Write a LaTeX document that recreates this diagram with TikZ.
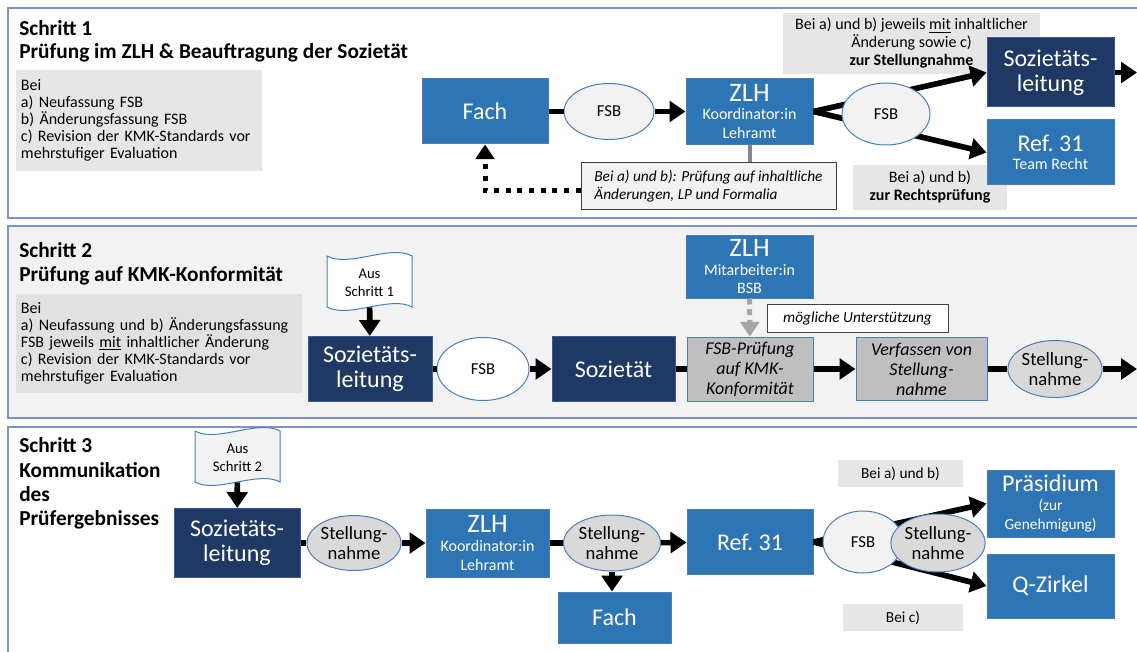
\documentclass[tikz,border=0pt]{standalone}
\usepackage{fontspec}
\setmainfont{Carlito}
\usetikzlibrary{arrows.meta,shapes.geometric}

\definecolor{zblue}{HTML}{2E75B6}
\definecolor{zblueline}{HTML}{4A7EBB}
\definecolor{znavy}{HTML}{1F3864}
\definecolor{znavyline}{HTML}{3A5A9A}
\definecolor{panelline}{HTML}{7F94C6}
\definecolor{panelfill}{HTML}{F2F2F2}
\definecolor{notegrey}{HTML}{E7E6E6}
\definecolor{listgrey}{HTML}{E1E1E1}
\definecolor{boxgrey}{HTML}{BFBFBF}
\definecolor{ovalgrey}{HTML}{D9D9D9}
\definecolor{ovallight}{HTML}{F2F2F2}
\definecolor{linkgrey}{HTML}{A6A6A6}

\newcommand{\headtxt}{\fontsize{16}{19}\bfseries\selectfont}
\newcommand{\listtxt}{\fontsize{12}{12.75}\selectfont}
\newcommand{\bigtxt}{\fontsize{18}{18.5}\selectfont}
\newcommand{\zlhtxt}{\fontsize{20}{20}\selectfont}
\newcommand{\smtxt}{\fontsize{12}{14}\selectfont}
\newcommand{\fsbtxt}{\fontsize{12.5}{14}\selectfont}
\newcommand{\stelltxt}{\fontsize{14}{15}\selectfont}
\newcommand{\tasktxt}{\fontsize{13.5}{15}\itshape\selectfont}
\newcommand{\hinttxt}{\fontsize{11.5}{13.5}\itshape\selectfont}
\newcommand{\notetxt}{\fontsize{11.5}{13.5}\selectfont}
\newcommand{\austxt}{\fontsize{11}{13}\selectfont}

% flag with wavy edges, centred on #1
\newcommand{\wavebox}[2]{%
  \draw[draw=zblueline,line width=0.75pt,fill=#2,shift={(#1)}]
    (-42.5,-27) .. controls (-21,-15) and (21,-39) .. (42.5,-27)
    -- (42.5,24) .. controls (21,12) and (-21,36) .. (-42.5,24) -- cycle;}

\tikzset{
  panel/.style={draw=panelline,line width=1.2pt},
  box/.style={rectangle,inner sep=0pt,align=center,text=white,line width=0.75pt},
  fachbox/.style={box,fill=zblue,draw=zblueline},
  leitbox/.style={box,fill=znavy,draw=znavyline},
  taskbox/.style={box,fill=boxgrey,draw=zblueline,text=black,font=\tasktxt},
  oval/.style={ellipse,draw=zblueline,line width=0.75pt,inner sep=0pt,align=center},
  fsboval/.style={oval,fill=ovallight,font=\fsbtxt},
  stelloval/.style={oval,fill=ovalgrey,font=\stelltxt},
  note/.style={fill=notegrey,inner sep=0pt,align=center,font=\notetxt},
  listbox/.style={fill=notegrey,inner sep=0pt,inner xsep=3.75pt,align=left,font=\listtxt},
  hint/.style={draw=black!75,line width=0.75pt,inner sep=0pt,align=left,font=\hinttxt},
  head/.style={anchor=base west,inner sep=0pt,font=\headtxt},
  link/.style={line width=4.25pt},
  arr/.style={line width=4.25pt,-{Triangle[length=12pt,width=15.5pt]}},
  dotarr/.style={line width=3.75pt,dash pattern=on 3.75pt off 5pt,-{Triangle[length=11pt,width=14pt]}},
  tie/.style={draw=linkgrey!80!black,line width=3pt},
  supp/.style={draw=linkgrey,line width=3.75pt,dash pattern=on 4.5pt off 3.5pt,
    -{Triangle[length=11pt,width=14pt,fill=linkgrey]}},
}

\begin{document}
\begin{tikzpicture}[x=0.75pt,y=-0.75pt]
    \useasboundingbox (0,0) rectangle (1137,652);
    \clip (0,0) rectangle (1137,652);

    % the three panels
    \draw[panel] (8,8) rectangle (1160,218);
    \draw[panel,fill=panelfill] (8,226) rectangle (1160,418);
    \draw[panel] (8,427) rectangle (1160,670);

    % Schritt 1
    \node[head] (s1) at (19,36) {Schritt 1};
    \node[head] (s1t) at (19,59) {Prüfung im ZLH \& Beauftragung der Sozietät};
    \node[listbox,minimum width=184.5pt,minimum height=75.75pt,text width=177pt] (bei1) at (139,120.5)
        {Bei\\a) Neufassung FSB\\b) Änderungsfassung FSB\\c) Revision der KMK-Standards vor\\mehrstufiger Evaluation};
    \node[note,font=\fontsize{12}{13.5}\selectfont,minimum width=192.75pt,minimum height=45.75pt] (stn1) at (911.5,43.5)
        {Bei a) und b) jeweils \underline{mit} inhaltlicher\\Änderung sowie c)\\\textbf{zur Stellungnahme}};
    \node[note,font=\fontsize{12}{13.5}\selectfont,minimum width=115.5pt,minimum height=33.75pt] (recht1) at (930,187.5)
        {Bei a) und b)\\\textbf{zur Rechtsprüfung}};
    \node[fachbox,minimum width=94.5pt,minimum height=48.75pt] (fach1) at (485,111.5) {\bigtxt Fach};
    \node[fachbox,minimum width=95.25pt,minimum height=49.5pt,font=\smtxt] (zlh1) at (749.5,111.5)
        {{\zlhtxt ZLH}\\Koordinator:in\\Lehramt};
    \node[leitbox,minimum width=95.25pt,minimum height=51.75pt,font=\bigtxt] (soz1) at (1050.5,72.5)
        {Sozietäts-\\leitung};
    \node[fachbox,minimum width=95.25pt,minimum height=48.75pt,font=\smtxt] (ref1) at (1050.5,152.5)
        {{\bigtxt Ref.~31}\\Team Recht};
    \node[hint,fill=ovallight,minimum width=191.25pt,minimum height=35.25pt] (hint1) at (708.5,186.5)
        {Bei a) und b): Prüfung auf inhaltliche\\Änderungen, LP und Formalia};
    \node[fsboval,minimum width=67.5pt,minimum height=42pt] (fsb1) at (609,111.5) {FSB};
    \coordinate (out1) at (1137,72.5);

    \draw[tie] (zlh1.south) -- (zlh1.south |- hint1.north);
    \draw[dotarr] ([yshift=-3pt]hint1.west) -| (fach1.south);
    \draw[link] (fach1) -- (fsb1);
    \draw[arr] (fsb1) -- (zlh1);
    \draw[arr] (zlh1.east) -- (soz1.west);
    \draw[arr] (zlh1.east) -- (ref1.west);
    \draw[arr] (soz1) -- (out1);
    \node[fsboval,minimum width=66pt,minimum height=46.5pt] (fsb2) at (886,114) {FSB};

    % Schritt 2
    \node[head] (s2) at (19,257) {Schritt 2};
    \node[head] (s2t) at (19,281) {Prüfung auf KMK-Konformität};
    \node[listbox,fill=listgrey,minimum width=214.5pt,minimum height=74.25pt,text width=207pt] (bei2) at (159,343.5)
        {Bei\\a) Neufassung und b) Änderungsfassung\\FSB jeweils \underline{mit} inhaltlicher Änderung\\c) Revision der KMK-Standards vor\\mehrstufiger Evaluation};
    \coordinate (w1) at (369.5,283);
    \wavebox{w1}{white}
    \node[minimum width=63.75pt,minimum height=36pt,inner sep=0pt,align=center,font=\austxt] (aus1) at (w1)
        {Aus\\Schritt 1};
    \node[leitbox,minimum width=93pt,minimum height=48.75pt,font=\bigtxt] (soz2) at (370,369)
        {Sozietäts-\\leitung};
    \node[fsboval,fill=white,minimum width=69pt,minimum height=47.25pt] (fsb3) at (483,369) {FSB};
    \node[leitbox,minimum width=92.25pt,minimum height=48.75pt,font=\bigtxt] (sozt) at (613.5,369) {Sozietät};
    \node[fachbox,minimum width=95.25pt,minimum height=47.25pt,font=\smtxt] (zlh2) at (749.5,266.5)
        {{\zlhtxt ZLH}\\Mitarbeiter:in\\BSB};
    \node[hint,fill=white,minimum width=135.75pt,minimum height=21pt] (hilfe) at (857.5,318)
        {mögliche Unterstützung};
    \node[taskbox,minimum width=94.5pt,minimum height=48pt] (fsbp) at (750,369)
        {FSB-Prüfung\\auf KMK-\\Konformität};
    \node[taskbox,minimum width=98.25pt,minimum height=47.25pt] (verf) at (921.5,369)
        {Verfassen von\\Stellung-\\nahme};
    \node[stelloval,minimum width=66pt,minimum height=42.75pt] (st2) at (1055,369) {Stellung-\\nahme};
    \coordinate (out2) at (1137,369);

    \draw[arr] (aus1) -- (soz2);
    \draw[link] (soz2) -- (fsb3);
    \draw[arr] (fsb3) -- (sozt);
    \draw[link] (sozt) -- (fsbp);
    \draw[supp] (zlh2) -- (fsbp);
    \draw[arr] (fsbp) -- (verf);
    \draw[link] (verf) -- (st2);
    \draw[arr] (st2) -- (out2);

    % Schritt 3
    \node[head] (s3) at (19,452) {Schritt 3};
    \node[head] (s3a) at (19,477) {Kommunikation};
    \node[head] (s3b) at (19,501) {des};
    \node[head] (s3c) at (19,525) {Prüfergebnisses};
    \node[note,minimum width=93.75pt,minimum height=20.25pt] (beiab) at (900.5,473.5) {Bei a) und b)};
    \node[note,minimum width=90pt,minimum height=20.25pt] (beic) at (903,617.5) {Bei c)};
    \coordinate (w2) at (237.5,458);
    \wavebox{w2}{ovallight}
    \node[minimum width=63.75pt,minimum height=36pt,inner sep=0pt,align=center,font=\austxt] (aus2) at (w2)
        {Aus\\Schritt 2};
    \node[leitbox,minimum width=94.5pt,minimum height=51.75pt,font=\bigtxt] (soz3) at (237,543)
        {Sozietäts-\\leitung};
    \node[stelloval,minimum width=66pt,minimum height=41.25pt] (st3) at (354,543) {Stellung-\\nahme};
    \node[fachbox,minimum width=92.25pt,minimum height=51pt,font=\smtxt] (zlh3) at (487.5,543)
        {{\zlhtxt ZLH}\\Koordinator:in\\Lehramt};
    \node[stelloval,minimum width=72.75pt,minimum height=42pt] (st4) at (612,543) {Stellung-\\nahme};
    \node[fachbox,minimum width=84.75pt,minimum height=38.25pt] (fach3) at (614.5,617.5) {\bigtxt Fach};
    \node[fachbox,minimum width=94.5pt,minimum height=48.75pt] (ref3) at (750,542) {\bigtxt Ref.~31};
    \node[fachbox,minimum width=95.25pt,minimum height=50.25pt,font=\fontsize{11.5}{14}\selectfont] (praes) at (1050.5,503.5)
        {{\bigtxt Präsidium}\\(zur\\Genehmigung)};
    \node[fachbox,minimum width=95.25pt,minimum height=48pt] (qz) at (1050.5,586) {\bigtxt Q-Zirkel};

    \draw[arr] (aus2) -- (soz3);
    \draw[link] (soz3) -- (st3);
    \draw[arr] (st3) -- (zlh3);
    \draw[link] (zlh3) -- (st4);
    \draw[arr] (st4.south) -- (st4.south |- fach3.north);
    \draw[arr] (st4) -- (ref3);
    \draw[arr] (ref3.east) -- (praes.west);
    \draw[arr] (ref3.east) -- (qz.west);
    \node[fsboval,minimum width=60pt,minimum height=46.5pt] (fsb4) at (863,542) {FSB};
    \node[stelloval,minimum width=67.5pt,minimum height=43.5pt] (st5) at (938,543) {Stellung-\\nahme};
\end{tikzpicture}
\end{document}
